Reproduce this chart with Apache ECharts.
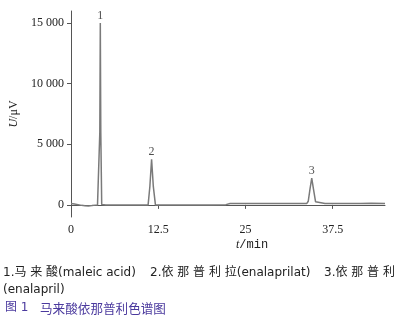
<!DOCTYPE html>
<html style="height: 100%">
<head>
	<meta charset="utf-8">
</head>
<body style="height: 100%; margin: 0; background: #fff">
	<div id="container" style="width: 398px; height: 326px;"></div>
	<script type="text/javascript" src="https://cdn.jsdelivr.net/npm/echarts@6/dist/echarts.min.js"></script>
	<script type="text/javascript">
		// chromatogram trace (t in min, U in μV)
		let times = [0, 0.5, 1, 1.5, 2, 2.5, 3, 3.5, 3.8, 4.05, 4.13, 4.2, 4.27, 4.4, 4.7, 5,
			8, 11.05, 11.3, 11.55, 11.8, 12.1, 12.4, 16, 20, 22.2, 22.8, 26, 31.4, 31.5, 31.6,
			33.8, 34.0, 34.25, 34.5, 34.75, 35.05, 35.3, 36.4, 36.5, 36.6, 39, 40.1, 40.2, 40.3,
			40.7, 40.8, 40.9, 41.5, 41.6, 41.7, 43, 45];
		let values = [120, 80, 20, -40, -80, -90, -60, -20, 0, 40, 6000, 15000, 6000, 40, 20, 0,
			0, 0, 1500, 3760, 1500, 0, 0, 0, 0, 20, 120, 120, 120, 220, 120,
			120, 300, 1300, 2200, 1300, 250, 120, 120, 200, 120, 120, 120, 240, 120,
			120, 240, 120, 120, 240, 120, 130, 120];
		let peakTimes = [4.2, 11.55, 34.5];
		let peakHeights = [15000, 3760, 2200];
		let peakNames = ['1', '2', '3'];
		let xTicks = [0, 12.5, 25, 37.5];
		let yTicks = [0, 5000, 10000, 15000];

		let dom = document.getElementById("container");
		let myChart = echarts.init(dom);

		let trace = times.map(function (t, i) { return [t, values[i]]; });
		let peaks = peakTimes.map(function (t, i) { return [t, peakHeights[i], peakNames[i]]; });

		function fmtY(v) {
			if (v >= 1000) return Math.floor(v / 1000) + ' ' + String(v % 1000).padStart(3, '0');
			return String(v);
		}

		let captionFont = '12px "DejaVu Sans", "Noto Sans CJK SC"';

		let option = {
			animation: false,
			grid: { left: 71, right: 13, top: 11, bottom: 109, containLabel: false },
			xAxis: {
				type: 'value',
				min: 0,
				max: 45,
				splitLine: { show: false },
				axisLine: { lineStyle: { color: '#555' } },
				axisTick: { length: 4, customValues: xTicks, lineStyle: { color: '#555' } },
				axisLabel: {
					customValues: xTicks,
					margin: 7,
					fontFamily: 'Liberation Serif',
					fontSize: 12,
					color: '#222',
					formatter: function (v) { return String(v); }
				}
			},
			yAxis: {
				type: 'value',
				min: -1000,
				max: 16000,
				splitLine: { show: false },
				axisLine: { show: true, lineStyle: { color: '#555' } },
				axisTick: { show: true, length: 4, customValues: yTicks, lineStyle: { color: '#555' } },
				axisLabel: {
					customValues: yTicks,
					margin: 7,
					fontFamily: 'Liberation Serif',
					fontSize: 12,
					color: '#222',
					formatter: fmtY
				},
				name: '{i|U}{n|/μV}',
				nameLocation: 'middle',
				nameRotate: 90,
				nameGap: 44,
				nameTextStyle: {
					rich: {
						i: { fontFamily: 'Liberation Serif', fontStyle: 'italic', fontSize: 12, color: '#222' },
						n: { fontFamily: 'Liberation Serif', fontSize: 12, color: '#222' }
					}
				}
			},
			series: [
				{
					type: 'line',
					data: trace,
					showSymbol: false,
					symbol: 'none',
					lineStyle: { color: '#7a7a7a', width: 1.5 },
					z: 3
				},
				{
					type: 'scatter',
					data: peaks,
					symbolSize: 0,
					silent: true,
					label: {
						show: true,
						position: 'top',
						distance: 1,
						formatter: function (p) { return p.value[2]; },
						fontFamily: 'Liberation Serif',
						fontSize: 12,
						color: '#222'
					},
					z: 4
				}
			],
			graphic: [
				{
					type: 'text', left: 236, top: 239,
					style: {
						text: '{i|t}{n|/min}',
						rich: {
							i: { fontFamily: 'Liberation Serif', fontStyle: 'italic', fontSize: 12, fill: '#222' },
							n: { fontFamily: 'Liberation Mono', fontSize: 12, fill: '#222' }
						}
					}
				},
				{
					type: 'text', left: 3, top: 267,
					style: { text: '1.马 来 酸(maleic acid)', font: captionFont, fill: '#222' }
				},
				{
					type: 'text', left: 150, top: 267,
					style: { text: '2.依 那 普 利 拉(enalaprilat)', font: captionFont, fill: '#222' }
				},
				{
					type: 'text', left: 324, top: 267,
					style: { text: '3.依 那 普 利', font: captionFont, fill: '#222' }
				},
				{
					type: 'text', left: 3, top: 284,
					style: { text: '(enalapril)', font: captionFont, fill: '#222' }
				},
				{
					type: 'text', left: 5, top: 302,
					style: { text: '图 1', font: captionFont, fill: '#4b3a9e' }
				},
				{
					type: 'text', left: 40, top: 302,
					style: { text: '马来酸依那普利色谱图', font: '12.6px "Noto Sans CJK SC"', fill: '#4b3a9e' }
				}
			]
		};

		myChart.setOption(option, true);
	</script>
</body>
</html>
